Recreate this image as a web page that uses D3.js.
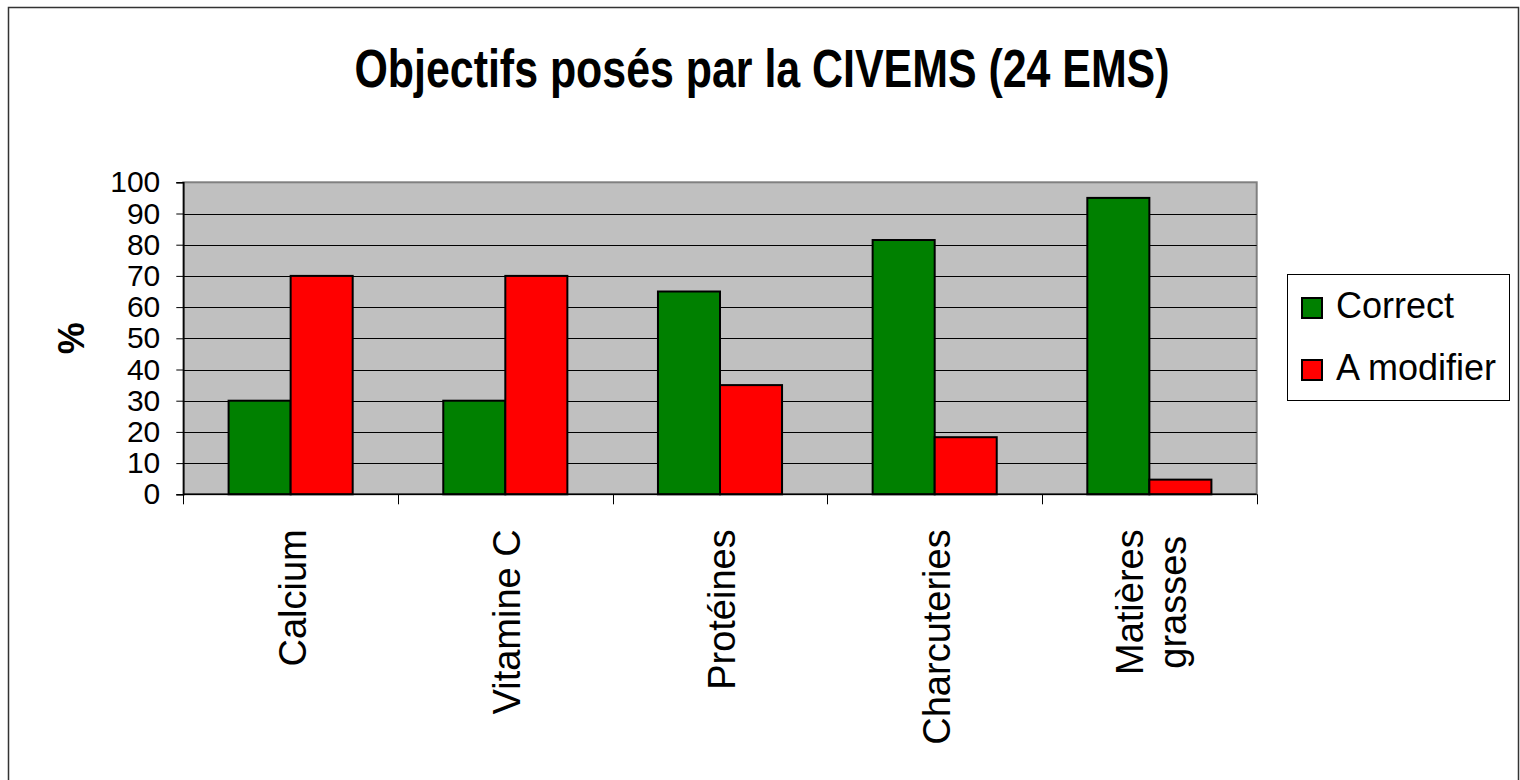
<!DOCTYPE html>
<html>
<head>
    <title>Objectifs posés par la CIVEMS</title>
    <script src="https://d3js.org/d3.v7.min.js"></script>
    <style>
        body { margin: 0; background: #fff; }
        text { font-family: "Liberation Sans", Arial, sans-serif; fill: #000; }
        .grid line { stroke: #000; stroke-width: 1; }
        .yaxis text { font-size: 30px; }
        .cat { font-size: 38px; }
    </style>
</head>
<body>
<div id="chart"></div>
<script>
// data
var categories = [["Calcium"], ["Vitamine C"], ["Protéines"], ["Charcuteries"], ["Matières", "grasses"]];
var series = ["Correct", "A modifier"];
var correctValues = [30, 30, 65, 81.5, 95];
var modifierValues = [70, 70, 35, 18.3, 4.7];
var yTicks = [0, 10, 20, 30, 40, 50, 60, 70, 80, 90, 100];
var colors = ["#008000", "#ff0000"];

var W = 1520, H = 780;
var plot = { left: 183.3, right: 1256.7, top: 182.3, bottom: 494.3 };

var svg = d3.select("#chart").append("svg")
    .attr("width", W)
    .attr("height", H);

// outer frame
svg.append("rect")
    .attr("x", 8.5).attr("y", 7.5)
    .attr("width", 1510).attr("height", 800)
    .attr("fill", "#fff")
    .attr("stroke", "#333")
    .attr("stroke-width", 1.5);

// title
svg.append("text")
    .attr("x", 762)
    .attr("y", 87)
    .attr("text-anchor", "middle")
    .attr("font-size", 53)
    .attr("font-weight", "bold")
    .attr("textLength", 815)
    .attr("lengthAdjust", "spacingAndGlyphs")
    .text("Objectifs posés par la CIVEMS (24 EMS)");

var x = d3.scaleBand()
    .domain(d3.range(categories.length))
    .range([plot.left, plot.right])
    .padding(0);

var xs = d3.scaleBand()
    .domain(series)
    .range([0, x.bandwidth()])
    .paddingInner(0)
    .paddingOuter(0.73);

var y = d3.scaleLinear()
    .domain([0, 100])
    .range([plot.bottom, plot.top]);

// plot background
svg.append("rect")
    .attr("x", plot.left).attr("y", plot.top)
    .attr("width", plot.right - plot.left)
    .attr("height", plot.bottom - plot.top)
    .attr("fill", "#c0c0c0")
    .attr("stroke", "#808080")
    .attr("stroke-width", 2);

// gridlines
svg.append("g").attr("class", "grid")
    .selectAll("line")
    .data(yTicks.filter(d => d > 0 && d < 100))
    .enter().append("line")
    .attr("x1", plot.left).attr("x2", plot.right)
    .attr("y1", d => Math.round(y(d)) + 0.5)
    .attr("y2", d => Math.round(y(d)) + 0.5);

// bars
var rows = categories.map((c, i) => ({ i: i, values: [correctValues[i], modifierValues[i]] }));
var groups = svg.selectAll(".grp")
    .data(rows)
    .enter().append("g")
    .attr("class", "grp")
    .attr("transform", d => "translate(" + x(d.i) + ",0)");

groups.selectAll("rect")
    .data(d => d.values.map((v, k) => ({ key: series[k], value: v, k: k })))
    .enter().append("rect")
    .attr("x", d => xs(d.key))
    .attr("width", xs.bandwidth())
    .attr("y", d => y(d.value))
    .attr("height", d => y(0) - y(d.value))
    .attr("fill", d => colors[d.k])
    .attr("stroke", "#000")
    .attr("stroke-width", 2);

// y axis
var yAxis = svg.append("g")
    .attr("class", "yaxis")
    .attr("transform", "translate(" + plot.left + ",0)")
    .call(d3.axisLeft(y).tickValues(yTicks).tickSize(7).tickPadding(16));
yAxis.select(".domain").attr("stroke", "#000").attr("stroke-width", 1.5);
yAxis.selectAll(".tick line").attr("stroke", "#000");
yAxis.selectAll("text").attr("font-family", "Liberation Sans, Arial, sans-serif").attr("fill", "#000");

// x axis line and ticks at band boundaries
svg.append("line")
    .attr("x1", plot.left).attr("x2", plot.right)
    .attr("y1", plot.bottom).attr("y2", plot.bottom)
    .attr("stroke", "#000").attr("stroke-width", 1.5);
svg.selectAll(".xtick")
    .data(d3.range(categories.length + 1))
    .enter().append("line")
    .attr("class", "xtick")
    .attr("x1", d => Math.round(plot.left + d * x.bandwidth()) + 0.5)
    .attr("x2", d => Math.round(plot.left + d * x.bandwidth()) + 0.5)
    .attr("y1", plot.bottom).attr("y2", plot.bottom + 10)
    .attr("stroke", "#000");

// category labels, rotated
var lineH = 43;
categories.forEach((lines, i) => {
    var cx = x(i) + x.bandwidth() / 2;
    var base = cx + 15 - (lines.length - 1) * lineH / 2;
    var g = svg.append("g")
        .attr("transform", "translate(" + base + "," + (plot.bottom + 35) + ") rotate(-90)");
    var texts = lines.map((l, j) => g.append("text")
        .attr("class", "cat")
        .attr("y", j * lineH)
        .text(l));
    var maxLen = d3.max(texts, t => t.node().getComputedTextLength());
    texts.forEach(t => t.attr("x", -maxLen / 2).attr("text-anchor", "middle"));
});

// y axis title
svg.append("text")
    .attr("transform", "translate(84," + ((plot.top + plot.bottom) / 2) + ") rotate(-90)")
    .attr("text-anchor", "middle")
    .attr("font-size", 36)
    .attr("font-weight", "bold")
    .text("%");

// legend
var legend = svg.append("g");
legend.append("rect")
    .attr("x", 1287.5).attr("y", 274.5)
    .attr("width", 222).attr("height", 126)
    .attr("fill", "#fff")
    .attr("stroke", "#000");
series.forEach((s, k) => {
    var ly = 298 + k * 62;
    legend.append("rect")
        .attr("x", 1302).attr("y", ly)
        .attr("width", 20).attr("height", 20)
        .attr("fill", colors[k])
        .attr("stroke", "#000")
        .attr("stroke-width", 2);
    legend.append("text")
        .attr("x", 1336).attr("y", ly + 20)
        .attr("font-size", 36)
        .text(s);
});
</script>
</body>
</html>
